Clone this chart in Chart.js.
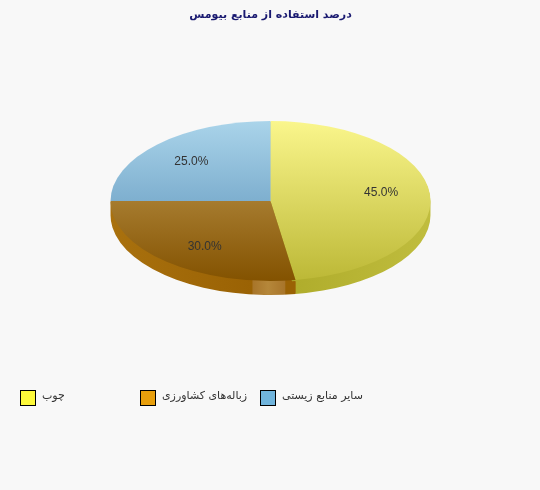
<!DOCTYPE html>
<html lang="fa">
<head>
<meta charset="utf-8">
<title>درصد استفاده از منابع بیومس</title>
<script src="https://cdn.jsdelivr.net/npm/chart.js@4/dist/chart.umd.min.js"></script>
<style>
  body { margin: 0; background: #f8f8f8; }
  #wrap { position: relative; width: 540px; height: 490px; overflow: hidden; }
  .key { position: absolute; top: 390px; height: 16px; }
  .key i { position: absolute; left: 0; top: 0; width: 14px; height: 14px; border: 1px solid #000; }
  .key span { position: absolute; left: 22px; top: -1px; white-space: nowrap; font: 11px "DejaVu Sans", sans-serif; line-height: 14px; color: #333; direction: rtl; }
</style>
</head>
<body>
<div id="wrap">
  <canvas id="myChart" width="540" height="490"></canvas>
</div>
<script>
const titleText = "درصد استفاده از منابع بیومس";
const categories = ["چوب", "زباله‌های  کشاورزی", "سایر منابع زیستی"];
// what the labels say
const shareValues = [45, 30, 25];
// what the slices really cover in the picture, yellow runs past its 45%
const drawnShares = [47.5, 27.5, 25];
const keyColors = ["#fdf93a", "#e89f0c", "#70b4dc"];

const faceStops = [
  [[-80, "#faf68c"], [80, "#bcb836"]],
  [[0, "#a67b2e"], [80, "#835200"]],
  [[-80, "#aad4ea"], [0, "#7eafcf"]]
];
const squash = 0.5;
const midY = 201;
const depth = 14;

// slice gradient, stops are given in screen px from the pie centre
function faceColor(ctx) {
  const chart = ctx.chart;
  if (!chart.chartArea || ctx.dataIndex === undefined) return "#ccc";
  const cy = (chart.chartArea.top + chart.chartArea.bottom) / 2;
  const stops = faceStops[ctx.dataIndex];
  const g = chart.ctx.createLinearGradient(0, cy + stops[0][0] / squash, 0, cy + stops[1][0] / squash);
  g.addColorStop(0, stops[0][1]);
  g.addColorStop(1, stops[1][1]);
  return g;
}

function rimColor(c, i) {
  if (i === 0) {
    const g = c.createLinearGradient(296, 0, 431, 0);
    g.addColorStop(0, "#b0ad2c");
    g.addColorStop(1, "#c0bd3e");
    return g;
  }
  const g = c.createLinearGradient(110, 0, 296, 0);
  g.addColorStop(0, "#a9710e");
  g.addColorStop(0.764, "#9a6204");
  g.addColorStop(0.768, "#a8752a");
  g.addColorStop(0.85, "#b5873a");
  g.addColorStop(0.94, "#a8752a");
  g.addColorStop(0.945, "#9a6204");
  g.addColorStop(1, "#9a6204");
  return g;
}

const tiltedPie = {
  id: "tiltedPie",
  beforeDatasetsDraw(chart) {
    const c = chart.ctx;
    const arcs = chart.getDatasetMeta(0).data;
    // side wall first, the top face covers most of it. blue is at the back, no wall
    arcs.slice(0, 2).forEach((arc, i) => {
      c.save();
      c.fillStyle = rimColor(c, i);
      c.beginPath();
      for (let d = depth; d >= 1; d--) {
        c.ellipse(arc.x, midY + d, arc.outerRadius, arc.outerRadius * squash, 0, arc.startAngle, arc.endAngle);
        c.lineTo(arc.x, midY + d);
        c.closePath();
      }
      c.fill();
      c.restore();
    });
    const cy = arcs[0].y;
    c.save();
    c.translate(0, midY);
    c.scale(1, squash);
    c.translate(0, -cy);
  },
  afterDatasetsDraw(chart) {
    const c = chart.ctx;
    c.restore();
    const arc = chart.getDatasetMeta(0).data[0];
    const total = shareValues.reduce((a, b) => a + b, 0);
    let run = 0;
    c.save();
    c.font = '12px "Liberation Sans", Arial, sans-serif';
    c.fillStyle = "#333";
    c.textAlign = "center";
    c.textBaseline = "middle";
    shareValues.forEach(v => {
      const mid = (run + v / 2) / total * Math.PI * 2;
      run += v;
      const r = arc.outerRadius * 0.7;
      c.fillText(v.toFixed(1) + "%", arc.x + r * Math.sin(mid), midY - r * squash * Math.cos(mid));
    });
    c.restore();
  }
};

new Chart(document.getElementById("myChart"), {
  type: "pie",
  data: {
    labels: categories,
    datasets: [{
      data: drawnShares,
      backgroundColor: faceColor,
      borderWidth: 0,
      radius: 160
    }]
  },
  options: {
    responsive: false,
    animation: false,
    layout: { padding: { left: 1, right: 0, top: 0, bottom: 140 } },
    plugins: {
      legend: { display: false },
      tooltip: { enabled: false },
      title: {
        display: true,
        text: titleText,
        color: "#191970",
        font: { family: '"DejaVu Sans", sans-serif', size: 11, weight: "bold" },
        padding: { top: 9, bottom: 8 }
      }
    }
  },
  plugins: [tiltedPie]
});

const keyLeft = [20, 140, 260];
categories.forEach((name, i) => {
  const d = document.createElement("div");
  d.className = "key";
  d.style.left = keyLeft[i] + "px";
  const box = document.createElement("i");
  box.style.background = keyColors[i];
  const label = document.createElement("span");
  label.textContent = name;
  d.appendChild(box);
  d.appendChild(label);
  document.getElementById("wrap").appendChild(d);
});
</script>
</body>
</html>
